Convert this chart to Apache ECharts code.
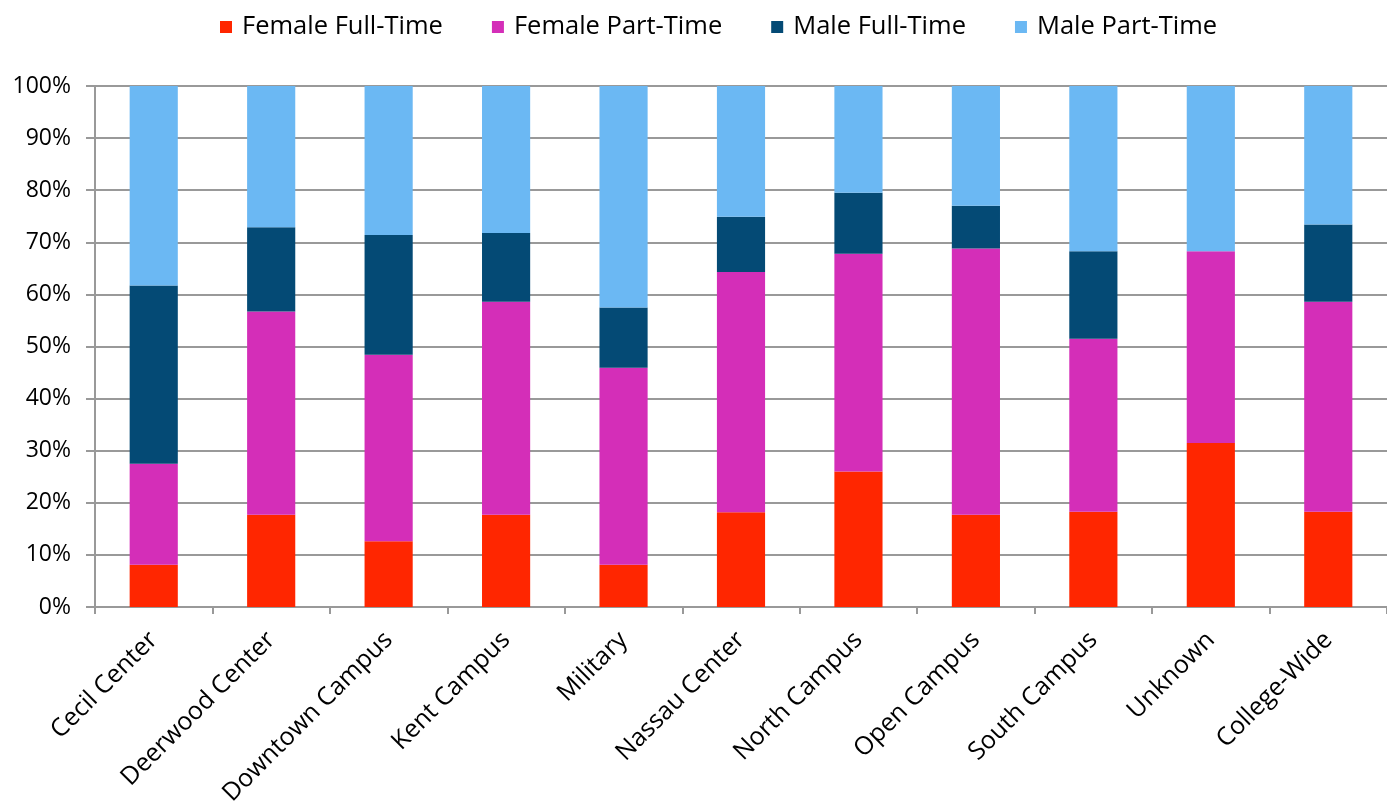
<!DOCTYPE html>
<html>
<head>
<meta charset="utf-8">
<script src="https://cdn.jsdelivr.net/npm/echarts@6/dist/echarts.min.js"></script>
<style>html,body{margin:0;padding:0;background:#fff}#c{width:1387px;height:808px}</style>
</head>
<body>
<div id="c"></div>
<script>
var categories = ["Cecil Center","Deerwood Center","Downtown Campus","Kent Campus","Military","Nassau Center","North Campus","Open Campus","South Campus","Unknown","College-Wide"];
var femaleFullTime = [8.1, 17.7, 12.6, 17.7, 8.1, 18.2, 26.0, 17.7, 18.3, 31.5, 18.3];
var femalePartTime = [19.4, 39.0, 35.8, 40.9, 37.8, 46.1, 41.8, 51.1, 33.2, 36.8, 40.3];
var maleFullTime   = [34.2, 16.2, 23.0, 13.2, 11.6, 10.6, 11.7, 8.2, 16.8, 0, 14.8];
var malePartTime   = [38.3, 27.1, 28.6, 28.2, 42.5, 25.1, 20.5, 23.0, 31.7, 31.7, 26.6];
var yTicks = [0,10,20,30,40,50,60,70,80,90,100];

var font = "Open Sans";
var chart = echarts.init(document.getElementById('c'), null, {renderer:'canvas'});
function s(name, data, color){
  return {name:name, type:'bar', stack:'total', data:data, barWidth:'41%',
    itemStyle:{color:color}, emphasis:{disabled:true}};
}
chart.setOption({
  animation:false,
  textStyle:{fontFamily:font},
  legend:{top:9, left:215, itemWidth:12, itemHeight:12, itemGap:49, icon:'rect',
    textStyle:{fontSize:25.5, fontFamily:font, color:'#000', padding:[0,0,0,5]},
    data:["Female Full-Time","Female Part-Time","Male Full-Time","Male Part-Time"]},
  grid:{left:95, right:0, top:86, bottom:201, containLabel:false, outerBoundsMode:'none'},
  xAxis:{type:'category', data:categories,
    axisLine:{lineStyle:{color:'#999', width:2}},
    axisTick:{show:true, alignWithLabel:false, length:7, lineStyle:{color:'#999', width:2}},
    axisLabel:{rotate:45, fontSize:25, fontFamily:font, color:'#000', margin:29, interval:0}},
  yAxis:{type:'value', min:0, max:100, interval:10,
    axisLine:{show:true, lineStyle:{color:'#999', width:2}},
    axisTick:{show:true, length:9, lineStyle:{color:'#999', width:2}},
    splitLine:{lineStyle:{color:'#999', width:2}},
    axisLabel:{formatter:function(v){return yTicks.indexOf(v)>=0? v+'%':'';}, fontSize:23, fontFamily:font, color:'#000', margin:24}},
  series:[
    s("Female Full-Time", femaleFullTime, '#FF2600'),
    s("Female Part-Time", femalePartTime, '#D42EB8'),
    s("Male Full-Time", maleFullTime, '#044A75'),
    s("Male Part-Time", malePartTime, '#6BB8F3')
  ]
});
</script>
</body>
</html>
